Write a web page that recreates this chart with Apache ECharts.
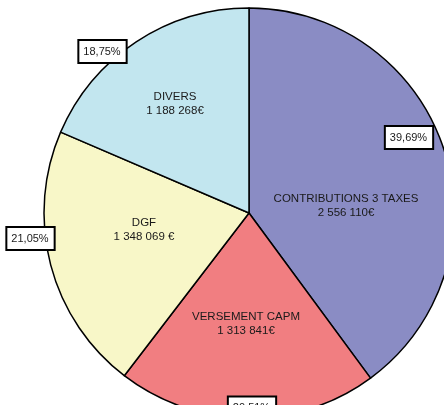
<!DOCTYPE html>
<html><head><meta charset="utf-8">
<script src="https://cdn.jsdelivr.net/npm/echarts@6/dist/echarts.min.js"></script>
<style>html,body{margin:0;padding:0;background:#fff}#c{width:444px;height:405px}</style>
</head><body><div id="c"></div>
<script>
const categories = ['CONTRIBUTIONS 3 TAXES', 'VERSEMENT CAPM', 'DGF', 'DIVERS'];
const values = [2556110, 1313841, 1348069, 1188268];
const valueLabels = ['2 556 110€', '1 313 841€', '1 348 069 €', '1 188 268€'];
const percentLabels = ['39,69%', '20,51%', '21,05%', '18,75%'];
const colors = ['#8A8CC4', '#F17E81', '#F8F7C8', '#C2E6EF'];

const namePos = [[346, 206], [246, 324], [144, 230], [175, 104]];
const pctPos = [[409, 137.5], [252, 408], [30.5, 238.5], [102.5, 51.5]];

const chart = echarts.init(document.getElementById('c'), null, {renderer: 'canvas'});
const data = categories.map((c, i) => ({name: c, value: values[i], itemStyle: {color: colors[i]}}));
chart.setOption({
  animation: false,
  series: [
    {
      type: 'pie', center: [249, 213], radius: [0, 205], startAngle: 90, clockwise: true,
      data: data,
      itemStyle: {borderColor: '#000', borderWidth: 1.5},
      emphasis: {disabled: true},
      label: {
        show: true, position: 'inside', color: '#1a1a1a',
        fontFamily: 'Liberation Sans', fontSize: 11.5, lineHeight: 14, align: 'center',
        formatter: p => p.name + '\n' + valueLabels[p.dataIndex]
      },
      labelLine: {show: false},
      labelLayout: p => ({x: namePos[p.dataIndex][0], y: namePos[p.dataIndex][1], align: 'center', verticalAlign: 'middle'})
    },
    {
      type: 'pie', center: [249, 213], radius: [0, 205], startAngle: 90, clockwise: true,
      silent: true, z: 5,
      data: categories.map((c, i) => ({name: c, value: values[i], itemStyle: {color: 'rgba(0,0,0,0)'}})),
      itemStyle: {borderWidth: 0},
      emphasis: {disabled: true},
      label: {
        show: true, position: 'inside', color: '#1a1a1a',
        fontFamily: 'Liberation Sans', fontSize: 11, lineHeight: 13,
        backgroundColor: '#fff', borderColor: '#000', borderWidth: 2, padding: [4, 5, 4, 4],
        formatter: p => percentLabels[p.dataIndex]
      },
      labelLine: {show: false},
      labelLayout: p => ({x: pctPos[p.dataIndex][0], y: pctPos[p.dataIndex][1], align: 'center', verticalAlign: 'middle'})
    }
  ]
});
</script></body></html>
